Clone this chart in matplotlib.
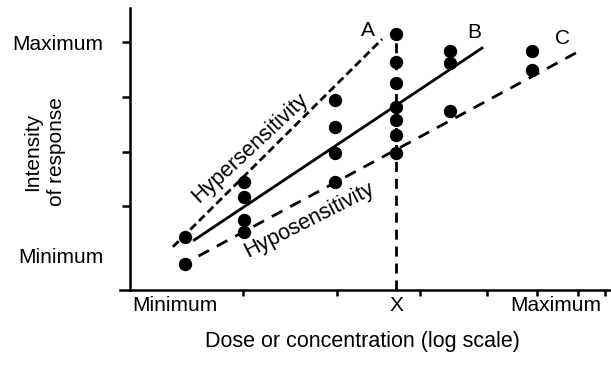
import matplotlib.pyplot as plt

plt.rcParams['font.family'] = ['Liberation Sans', 'DejaVu Sans']

# observed responses: (dose, intensity)
dose_pts = [1.15, 1.15,
            2.37, 2.37, 2.37, 2.37,
            4.27, 4.27, 4.27, 4.27,
            5.53, 5.53, 5.53, 5.53, 5.53, 5.53, 5.53,
            6.65, 6.65, 6.65,
            8.35, 8.35]
resp_pts = [0.44, -0.05,
            1.44, 1.17, 0.75, 0.53,
            2.94, 2.45, 1.97, 1.44,
            4.15, 3.64, 3.25, 2.82, 2.58, 2.30, 1.97,
            3.84, 3.62, 2.74,
            3.84, 3.49]

# dose-response lines (start, end)
line_a_x = [0.89, 5.24]
line_a_y = [0.26, 4.06]
line_b_x = [1.31, 7.34]
line_b_y = [0.37, 3.91]
line_c_x = [1.04, 9.38]
line_c_y = [-0.09, 3.86]
dose_x = 5.53

x_ticks = [2.35, 4.30, 6.03, 7.42, 8.46, 9.31, 9.88]
x_label_pos = [0.94, 5.53, 8.86]
x_labels = ['Minimum', 'X', 'Maximum']
y_ticks = [0.1, 1, 2, 3, 4]
y_labels = ['Minimum', '', '', '', 'Maximum']

fig = plt.figure(figsize=(6.11, 3.65), dpi=100)
ax = fig.add_axes([120 / 611, 75 / 365, 491 / 611, 282 / 365])
ax.set_xlim(-0.21, 10.0)
ax.set_ylim(-0.53, 4.63)

ax.spines['top'].set_visible(False)
ax.spines['right'].set_visible(False)
ax.spines['left'].set_position(('data', 0))
ax.spines['left'].set_linewidth(1.8)
ax.spines['bottom'].set_linewidth(1.8)

lw = 2.0
ax.plot(line_a_x, line_a_y, color='black', lw=lw, linestyle=(0, (2.9, 1.5)))
ax.plot(line_b_x, line_b_y, color='black', lw=lw, solid_capstyle='butt')
ax.plot(line_c_x, line_c_y, color='black', lw=lw, linestyle=(0, (4.3, 3.2)))
ax.plot([dose_x, dose_x], [ax.get_ylim()[0], max(resp_pts)], color='black',
        lw=lw, linestyle=(0, (3.6, 2.5)))
ax.plot(dose_pts, resp_pts, 'o', color='black', markersize=8.6, zorder=5)

ax.text(4.95, 4.22, 'A', fontsize=15, ha='center', va='center')
ax.text(7.15, 4.19, 'B', fontsize=15, ha='center', va='center')
ax.text(9.00, 4.08, 'C', fontsize=15, ha='center', va='center')
ax.text(2.50, 2.06, 'Hypersensitivity', fontsize=15.5, rotation=43,
        ha='center', va='center', rotation_mode='anchor')
ax.text(3.72, 0.74, 'Hyposensitivity', fontsize=15.5, rotation=27,
        ha='center', va='center', rotation_mode='anchor')

ax.set_xticks(x_ticks)
ax.set_xticklabels([])
ax.set_xticks(x_label_pos, x_labels, minor=True)
ax.tick_params(axis='x', which='major', direction='out', length=4.5, width=1.8)
ax.tick_params(axis='x', which='minor', length=0, pad=4, labelsize=15)

ax.set_yticks(y_ticks, y_labels)
ax.tick_params(axis='y', direction='out', length=6, width=1.8, pad=13.5,
               labelsize=15)
ax.yaxis.get_major_ticks()[0].tick1line.set_visible(False)

ax.set_xlabel('Dose or concentration (log scale)', fontsize=15.5)
ax.xaxis.set_label_coords((362 - 120) / 491, (290 - 331) / 282)
ax.set_ylabel('Intensity\nof response', fontsize=15, linespacing=1.3)
ax.yaxis.set_label_coords((66 - 120) / 491, 0.49)

fig.savefig('out.png', dpi=100)
